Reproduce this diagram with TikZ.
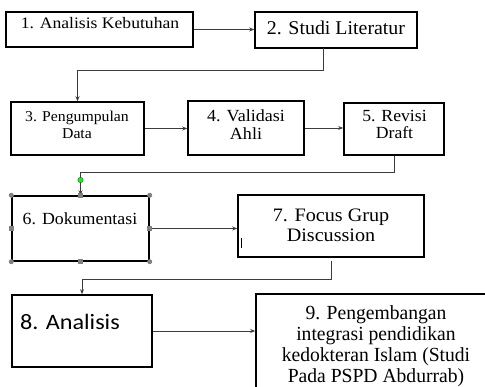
\documentclass[tikz,border=0pt]{standalone}
\usepackage{fontspec}
\setmainfont{Liberation Serif}
\newfontfamily\calib{Carlito}
\usetikzlibrary{arrows.meta,calc}
\newcommand{\sxt}[2]{\scalebox{#1}[1]{\begin{tabular}{@{}c@{}}#2\end{tabular}}}
\definecolor{conncol}{RGB}{60,60,60}
\definecolor{handlecol}{RGB}{128,128,128}
\definecolor{greendot}{RGB}{40,230,40}
\begin{document}
\begin{tikzpicture}[x=1pt,y=-1pt,
 box/.style={draw=black, line width=1.6pt, inner sep=0pt, rectangle},
 conn/.style={draw=conncol, line width=0.8pt},
 arr/.style={conn, -{Stealth[length=5pt,width=4pt]}},
 txt/.style={inner sep=0pt, text=black},
 hc/.style={circle, fill=handlecol, inner sep=0pt, minimum size=5pt},
 hs/.style={rectangle, fill=handlecol, inner sep=0pt, minimum size=4.5pt}]
\clip (0,0) rectangle (485,387);
\fill[white] (0,0) rectangle (485,387);
% boxes
\node[box, minimum width=187pt, minimum height=35pt] (b1) at (99.5,29.5) {};
\node[box, minimum width=162pt, minimum height=36pt] (b2) at (336,30) {};
\node[box, minimum width=133pt, minimum height=53pt] (b3) at (77.5,128.5) {};
\node[box, minimum width=116pt, minimum height=54pt] (b4) at (246,128) {};
\node[box, minimum width=100pt, minimum height=52pt] (b5) at (394,129) {};
\node[box, line width=1.4pt, minimum width=137pt, minimum height=65pt] (b6) at (80.5,228.5) {};
\node[box, minimum width=186pt, minimum height=62pt] (b7) at (331,226) {};
\node[box, minimum width=140pt, minimum height=72pt] (b8) at (82,331) {};
\node[box, minimum width=239pt, minimum height=106pt] (b9) at (375.5,347) {};
% texts
\node[txt, anchor=base, font=\fontsize{16}{18}\selectfont] (t1) at (100,29) {\scalebox{1.1}[1]{1. Analisis Kebutuhan}};
\node[txt, anchor=base, font=\fontsize{19.5}{22}\selectfont] (t2) at (336,35) {\scalebox{1.02}[1]{2. Studi Literatur}};
\node[txt, font=\fontsize{15}{17}\selectfont] (t3) at (77,126.5) {\sxt{1.05}{3. Pengumpulan\\Data}};
\node[txt, font=\fontsize{17}{18}\selectfont] (t4) at (246,126.5) {\sxt{1.06}{4. Validasi\\Ahli}};
\node[txt, font=\fontsize{17}{16}\selectfont] (t5) at (394.5,127) {\sxt{1.04}{5. Revisi\\Draft}};
\node[txt, anchor=base, font=\fontsize{17}{19}\selectfont] (t6) at (80,225) {\scalebox{1.05}[1]{6. Dokumentasi}};
\node[txt, font=\fontsize{19}{20}\selectfont] (t7) at (331,227.5) {\sxt{1.06}{7. Focus Grup\\Discussion}};
\node[txt, anchor=base, font=\calib\fontsize{22}{26}\selectfont] (t8) at (70,330) {\scalebox{1.1}[1]{8. Analisis}};
\node[txt, font=\fontsize{20}{21}\selectfont] (t9) at (376,347) {\sxt{0.98}{9. Pengembangan\\integrasi pendidikan\\kedokteran Islam (Studi\\Pada PSPD Abdurrab)}};
% connectors
\coordinate (c2) at (323,48);
\coordinate (y1) at (0,70);
\coordinate (y2) at (0,172);
\coordinate (c7) at (331,261);
\coordinate (y3) at (0,279);
\draw[arr] (b1.east) -- (b1.east -| b2.west);
\draw[arr] (c2) |- (b3.north |- y1) -- (b3.north);
\draw[arr] (b3.east) -- (b3.east -| b4.west);
\draw[arr] (b4.east) -- (b4.east -| b5.west);
\draw[arr] (b5.south) |- (b6.north |- y2) -- (b6.north);
\draw[arr] (b6.east) -- (b6.east -| b7.west);
\draw[arr] (c7) |- (b8.north |- y3) -- (b8.north);
\draw[arr] (b8.east) -- (b8.east -| b9.west);
% selection handles on box 6
\foreach \a [count=\i] in {north west, north east, south west, south east}
  \node[hc] (hc\i) at (b6.\a) {};
\foreach \a [count=\i] in {north, south, west, east}
  \node[hs] (hs\i) at (b6.\a) {};
\node[circle, fill=greendot, draw=green!40!black, line width=0.3pt, inner sep=0pt, minimum size=5.5pt] (gd) at (80.5,180) {};
% text cursor mark in box 7
\coordinate (k1) at (241,238);
\coordinate (k2) at (241,248);
\draw[line width=0.8pt] (k1) -- (k2);
\end{tikzpicture}
\end{document}
